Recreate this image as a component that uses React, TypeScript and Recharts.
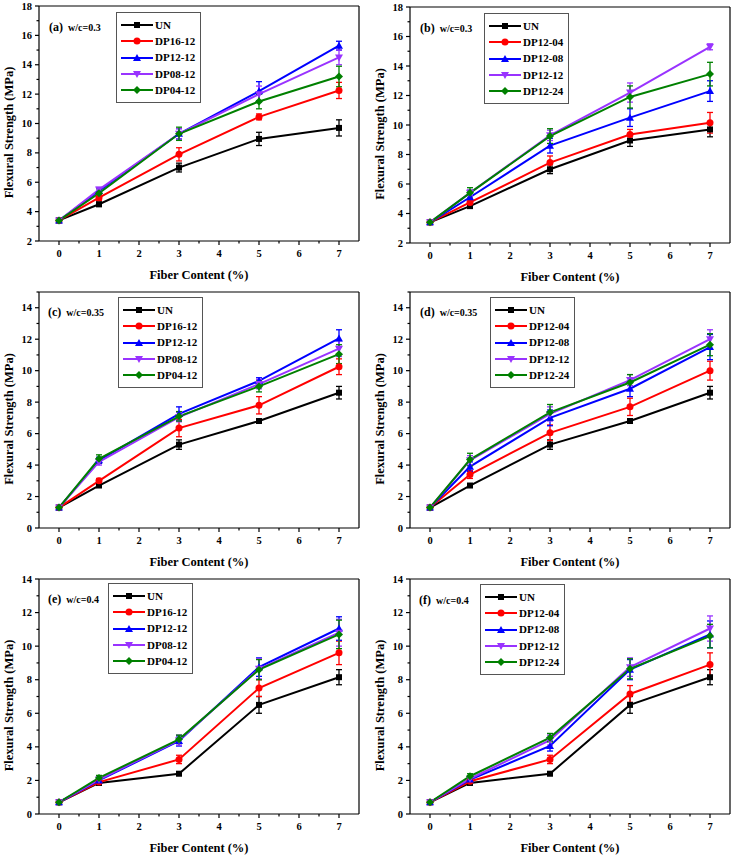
import React from 'react';
import { LineChart, Line, XAxis, YAxis, ErrorBar, ReferenceLine } from 'recharts';

// fiber content (%) on the x axis, shared by every panel
const fiber = [0, 1, 3, 5, 7];

// (a) w/c=0.3, fiber diameter series
const aUN = [3.4, 4.5, 7.0, 8.95, 9.7];
const aDP1612 = [3.4, 4.95, 7.9, 10.45, 12.25];
const aDP1212 = [3.4, 5.4, 9.3, 12.2, 15.3];
const aDP0812 = [3.4, 5.5, 9.3, 12.0, 14.5];
const aDP0412 = [3.4, 5.25, 9.3, 11.5, 13.2];
const aUNErr = [0.1, 0.15, 0.3, 0.45, 0.55];
const aDP1612Err = [0.1, 0.2, 0.45, 0.2, 0.55];
const aDP1212Err = [0.1, 0.2, 0.35, 0.65, 0.3];
const aDP0812Err = [0.1, 0.15, 0.35, 0.55, 0.5];
const aDP0412Err = [0.1, 0.3, 0.45, 0.5, 0.7];

// (b) w/c=0.3, fiber length series
const bUN = [3.4, 4.5, 7.0, 8.95, 9.7];
const bDP1204 = [3.4, 4.75, 7.45, 9.35, 10.15];
const bDP1208 = [3.4, 5.1, 8.6, 10.5, 12.3];
const bDP1212 = [3.4, 5.4, 9.3, 12.2, 15.3];
const bDP1224 = [3.4, 5.4, 9.25, 11.9, 13.45];
const bUNErr = [0.1, 0.15, 0.3, 0.4, 0.5];
const bDP1204Err = [0.1, 0.2, 0.45, 0.35, 0.7];
const bDP1208Err = [0.1, 0.3, 0.5, 0.6, 0.7];
const bDP1212Err = [0.1, 0.2, 0.35, 0.65, 0.2];
const bDP1224Err = [0.1, 0.35, 0.5, 0.75, 0.8];

// (c) w/c=0.35
const cUN = [1.3, 2.7, 5.3, 6.8, 8.6];
const cDP1612 = [1.3, 3.0, 6.35, 7.8, 10.25];
const cDP1212 = [1.3, 4.3, 7.25, 9.35, 12.05];
const cDP0812 = [1.3, 4.2, 7.05, 9.15, 11.4];
const cDP0412 = [1.3, 4.4, 7.1, 9.0, 11.05];
const cUNErr = [0.1, 0.1, 0.3, 0.1, 0.4];
const cDP1612Err = [0.1, 0.15, 0.55, 0.55, 0.5];
const cDP1212Err = [0.1, 0.2, 0.45, 0.2, 0.55];
const cDP0812Err = [0.1, 0.2, 0.3, 0.3, 0.5];
const cDP0412Err = [0.1, 0.25, 0.3, 0.35, 0.6];

// (d) w/c=0.35
const dUN = [1.3, 2.7, 5.3, 6.8, 8.6];
const dDP1204 = [1.3, 3.4, 6.05, 7.7, 10.0];
const dDP1208 = [1.3, 3.9, 7.0, 8.85, 11.5];
const dDP1212 = [1.3, 4.3, 7.25, 9.4, 12.0];
const dDP1224 = [1.3, 4.35, 7.35, 9.25, 11.65];
const dUNErr = [0.1, 0.1, 0.3, 0.1, 0.4];
const dDP1204Err = [0.1, 0.25, 0.5, 0.55, 0.6];
const dDP1208Err = [0.1, 0.3, 0.5, 0.5, 0.8];
const dDP1212Err = [0.1, 0.3, 0.45, 0.35, 0.6];
const dDP1224Err = [0.1, 0.4, 0.5, 0.5, 0.7];

// (e) w/c=0.4
const eUN = [0.7, 1.85, 2.4, 6.5, 8.15];
const eDP1612 = [0.7, 1.9, 3.25, 7.5, 9.6];
const eDP1212 = [0.7, 2.0, 4.35, 8.75, 11.05];
const eDP0812 = [0.7, 2.05, 4.4, 8.65, 10.8];
const eDP0412 = [0.7, 2.15, 4.45, 8.6, 10.7];
const eUNErr = [0.1, 0.1, 0.1, 0.5, 0.45];
const eDP1612Err = [0.1, 0.1, 0.25, 0.5, 0.7];
const eDP1212Err = [0.1, 0.15, 0.3, 0.55, 0.7];
const eDP0812Err = [0.1, 0.15, 0.3, 0.6, 0.8];
const eDP0412Err = [0.1, 0.15, 0.25, 0.6, 0.85];

// (f) w/c=0.4
const fUN = [0.7, 1.85, 2.4, 6.5, 8.15];
const fDP1204 = [0.7, 1.95, 3.25, 7.15, 8.9];
const fDP1208 = [0.7, 2.05, 4.05, 8.6, 10.7];
const fDP1212 = [0.7, 2.1, 4.4, 8.75, 11.05];
const fDP1224 = [0.7, 2.25, 4.55, 8.65, 10.6];
const fUNErr = [0.1, 0.1, 0.1, 0.5, 0.45];
const fDP1204Err = [0.1, 0.1, 0.25, 0.5, 0.7];
const fDP1208Err = [0.1, 0.15, 0.3, 0.6, 0.8];
const fDP1212Err = [0.1, 0.15, 0.3, 0.55, 0.75];
const fDP1224Err = [0.1, 0.15, 0.25, 0.6, 0.7];

const namesDiameter = ['UN', 'DP16-12', 'DP12-12', 'DP08-12', 'DP04-12'];
const namesLength = ['UN', 'DP12-04', 'DP12-08', 'DP12-12', 'DP12-24'];

const colors = ['#000000', '#ff0000', '#0000ff', '#9933ff', '#008000'];
const shapes = ['square', 'circle', 'triangle', 'triangleDown', 'diamond'];

const xTicks = [0, 0.5, 1, 1.5, 2, 2.5, 3, 3.5, 4, 4.5, 5, 5.5, 6, 6.5, 7];
const yTicks18 = [2, 3, 4, 5, 6, 7, 8, 9, 10, 11, 12, 13, 14, 15, 16, 17, 18];
const yTicks15 = [0, 1, 2, 3, 4, 5, 6, 7, 8, 9, 10, 11, 12, 13, 14, 15];
const yTicks14 = [0, 1, 2, 3, 4, 5, 6, 7, 8, 9, 10, 11, 12, 13, 14];

const FONT = "'Times New Roman', 'Liberation Serif', Tinos, serif";

function Marker({ shape, cx, cy, color }: any) {
  if (cx == null || cy == null) return null;
  if (shape === 'square') {
    return <rect x={cx - 3} y={cy - 3} width={6} height={6} fill={color} />;
  }
  if (shape === 'circle') {
    return <circle cx={cx} cy={cy} r={3.5} fill={color} />;
  }
  if (shape === 'triangle') {
    return <polygon points={`${cx},${cy - 4} ${cx - 4},${cy + 3} ${cx + 4},${cy + 3}`} fill={color} />;
  }
  if (shape === 'triangleDown') {
    return <polygon points={`${cx},${cy + 4} ${cx - 4},${cy - 3} ${cx + 4},${cy - 3}`} fill={color} />;
  }
  return <polygon points={`${cx},${cy - 4} ${cx + 4},${cy} ${cx},${cy + 4} ${cx - 4},${cy}`} fill={color} />;
}

function XTick({ x, y, payload }: any) {
  const v = payload.value;
  const major = Number.isInteger(v);
  return (
    <g>
      <line x1={x} x2={x} y1={y} y2={y + (major ? 4 : 2.5)} stroke="#000" strokeWidth={1.2} />
      {major && (
        <text x={x} y={y + 16} textAnchor="middle" fontSize={10.5} fontWeight="bold" style={{ fontFamily: FONT }} fill="#000">
          {v}
        </text>
      )}
    </g>
  );
}

function YTick({ x, y, payload }: any) {
  const v = payload.value;
  const major = v % 2 === 0;
  return (
    <g>
      <line x1={x} x2={x - (major ? 4 : 2.5)} y1={y} y2={y} stroke="#000" strokeWidth={1.2} />
      {major && (
        <text x={x - 7} y={y + 3.5} textAnchor="end" fontSize={10.5} fontWeight="bold" style={{ fontFamily: FONT }} fill="#000">
          {v}
        </text>
      )}
    </g>
  );
}

const xTitle = (props: any) => {
  const vb = props.viewBox || {};
  return (
    <text x={vb.x + vb.width / 2} y={vb.y + 38} textAnchor="middle" fontSize={12.5} fontWeight="bold" style={{ fontFamily: FONT }} fill="#000">
      Fiber Content (%)
    </text>
  );
};

const yTitle = (props: any) => {
  const vb = props.viewBox || {};
  const tx = vb.x + vb.width - 26;
  const ty = vb.y + vb.height / 2 + 9;
  return (
    <text x={tx} y={ty} transform={`rotate(-90 ${tx} ${ty})`} textAnchor="middle" fontSize={12.5} fontWeight="bold" style={{ fontFamily: FONT }} fill="#000">
      Flexural Strength (MPa)
    </text>
  );
};

function LegendBox({ names, left, top }: any) {
  return (
    <div
      style={{
        position: 'absolute',
        left,
        top,
        border: '1px solid #555',
        background: '#fff',
        padding: '4px 5px 4px 3px',
        fontFamily: FONT,
        fontWeight: 'bold',
        fontSize: 11,
        lineHeight: 1,
      }}
    >
      {names.map((n: string, k: number) => (
        <div key={n} style={{ display: 'flex', alignItems: 'center', height: 16.3 }}>
          <svg width={34} height={12} style={{ display: 'block' }}>
            <line x1={1} x2={33} y1={6} y2={6} stroke={colors[k]} strokeWidth={2} />
            <Marker shape={shapes[k]} cx={17} cy={6} color={colors[k]} />
          </svg>
          <span style={{ marginLeft: 1 }}>{n}</span>
        </div>
      ))}
    </div>
  );
}

function Panel(p: any) {
  const rows = fiber.map((x, i) => {
    const r: any = { x };
    p.values.forEach((v: number[], k: number) => {
      r['s' + k] = v[i];
      r['e' + k] = p.errors[k][i];
    });
    return r;
  });
  const yMax = p.yDomain[1];
  return (
    <div style={{ position: 'absolute', left: p.left, top: p.top, width: p.width, height: p.height }}>
      <LineChart width={p.width} height={p.height} data={rows} margin={{ top: p.mt, right: p.mr, bottom: 0, left: 0 }}>
        <XAxis
          type="number"
          dataKey="x"
          domain={[-0.5, 7.5]}
          ticks={xTicks}
          interval={0}
          tickSize={0}
          tickMargin={0}
          tickLine={false}
          axisLine={{ stroke: '#000', strokeWidth: 1.2 }}
          tick={<XTick />}
          height={p.xh}
          label={xTitle}
        />
        <YAxis
          type="number"
          domain={p.yDomain}
          ticks={p.yTicks}
          interval={0}
          tickSize={0}
          tickMargin={0}
          tickLine={false}
          axisLine={{ stroke: '#000', strokeWidth: 1.2 }}
          tick={<YTick />}
          width={p.yw}
          label={yTitle}
        />
        <ReferenceLine y={yMax} stroke="#000" strokeWidth={1.2} />
        <ReferenceLine x={7.5} stroke="#000" strokeWidth={1.2} />
        {p.values.map((_: number[], k: number) => (
          <Line
            key={k}
            dataKey={'s' + k}
            stroke={colors[k]}
            strokeWidth={2}
            isAnimationActive={false}
            dot={(d: any) => <Marker key={`d${k}-${d.index}`} shape={shapes[k]} cx={d.cx} cy={d.cy} color={colors[k]} />}
            activeDot={false}
          >
            <ErrorBar dataKey={'e' + k} direction="y" width={3} stroke={colors[k]} strokeWidth={1.3} isAnimationActive={false} />
          </Line>
        ))}
      </LineChart>
      <div
        style={{
          position: 'absolute',
          left: p.labelX,
          top: p.labelY,
          fontFamily: FONT,
          fontWeight: 'bold',
          lineHeight: 1,
          whiteSpace: 'nowrap',
        }}
      >
        <span style={{ fontSize: 12 }}>{p.tag}</span>
        <span style={{ fontSize: 10, marginLeft: 5 }}>{p.wc}</span>
      </div>
      <LegendBox names={p.names} left={p.legendX} top={p.legendY} />
    </div>
  );
}

export default function App() {
  return (
    <div style={{ position: 'absolute', left: 0, top: 0, width: 734, height: 856, background: '#fff' }}>
      <Panel
        left={0} top={0} width={367} height={285} mt={6} mr={8} yw={39} xh={44}
        yDomain={[2, 18]} yTicks={yTicks18}
        names={namesDiameter}
        values={[aUN, aDP1612, aDP1212, aDP0812, aDP0412]}
        errors={[aUNErr, aDP1612Err, aDP1212Err, aDP0812Err, aDP0412Err]}
        tag="(a)" wc="w/c=0.3" labelX={49} labelY={18} legendX={116} legendY={12}
      />
      <Panel
        left={367} top={0} width={367} height={285} mt={7} mr={4} yw={43} xh={42}
        yDomain={[2, 18]} yTicks={yTicks18}
        names={namesLength}
        values={[bUN, bDP1204, bDP1208, bDP1212, bDP1224]}
        errors={[bUNErr, bDP1204Err, bDP1208Err, bDP1212Err, bDP1224Err]}
        tag="(b)" wc="w/c=0.3" labelX={53} labelY={19} legendX={117} legendY={13}
      />
      <Panel
        left={0} top={285} width={367} height={285} mt={7} mr={8} yw={39} xh={42}
        yDomain={[0, 15]} yTicks={yTicks15}
        names={namesDiameter}
        values={[cUN, cDP1612, cDP1212, cDP0812, cDP0412]}
        errors={[cUNErr, cDP1612Err, cDP1212Err, cDP0812Err, cDP0412Err]}
        tag="(c)" wc="w/c=0.35" labelX={48} labelY={18} legendX={118} legendY={12}
      />
      <Panel
        left={367} top={285} width={367} height={285} mt={7} mr={4} yw={43} xh={42}
        yDomain={[0, 15]} yTicks={yTicks15}
        names={namesLength}
        values={[dUN, dDP1204, dDP1208, dDP1212, dDP1224]}
        errors={[dUNErr, dDP1204Err, dDP1208Err, dDP1212Err, dDP1224Err]}
        tag="(d)" wc="w/c=0.35" labelX={53} labelY={18} legendX={123} legendY={12}
      />
      <Panel
        left={0} top={570} width={367} height={286} mt={9} mr={8} yw={39} xh={42}
        yDomain={[0, 14]} yTicks={yTicks14}
        names={namesDiameter}
        values={[eUN, eDP1612, eDP1212, eDP0812, eDP0412]}
        errors={[eUNErr, eDP1612Err, eDP1212Err, eDP0812Err, eDP0412Err]}
        tag="(e)" wc="w/c=0.4" labelX={48} labelY={20} legendX={108} legendY={13}
      />
      <Panel
        left={367} top={570} width={367} height={286} mt={9} mr={4} yw={43} xh={42}
        yDomain={[0, 14]} yTicks={yTicks14}
        names={namesLength}
        values={[fUN, fDP1204, fDP1208, fDP1212, fDP1224]}
        errors={[fUNErr, fDP1204Err, fDP1208Err, fDP1212Err, fDP1224Err]}
        tag="(f)" wc="w/c=0.4" labelX={52} labelY={21} legendX={113} legendY={14}
      />
    </div>
  );
}
